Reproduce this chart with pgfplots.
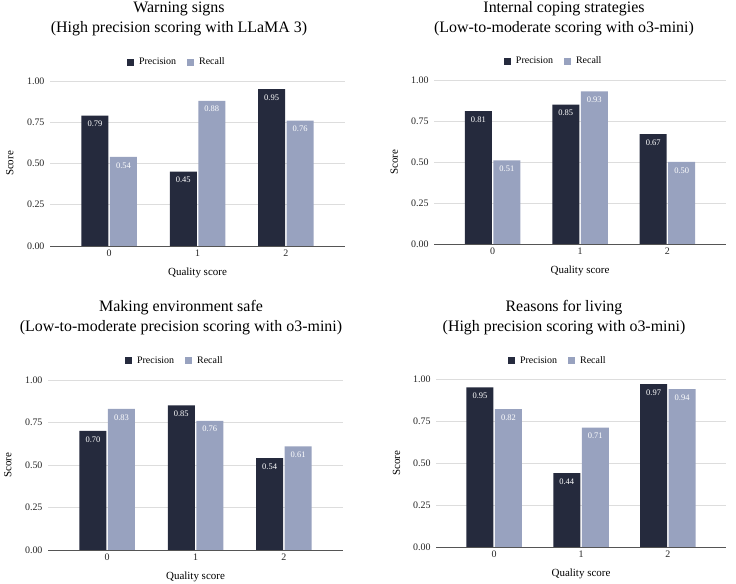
\documentclass[border=0pt]{standalone}
\usepackage{pgfplots}
\pgfplotsset{compat=1.18}
\usepackage{fontspec}
\setmainfont{Liberation Serif}
\definecolor{prec}{HTML}{252A3D}
\definecolor{rec}{HTML}{98A2BF}
\definecolor{gridc}{HTML}{DDDDDD}
\definecolor{axc}{HTML}{555555}
\pgfplotsset{
  panel/.style={
    scale only axis,
    ybar=1.5bp,
    bar width=27bp,
    xmin=-0.67, xmax=2.67,
    ymin=0, ymax=1,
    xtick={0,1,2},
    ytick={0,0.25,0.5,0.75,1},
    /pgf/number format/assume math mode=true,
    yticklabel style={xshift=-2bp, /pgf/number format/fixed, /pgf/number format/fixed zerofill, /pgf/number format/precision=2},
    ticklabel style={font=\fontsize{10}{12}\selectfont, text=black!85},
    major tick length=0pt,
    axis x line*=bottom,
    axis y line*=left,
    x axis line style={axc, line width=0.8pt},
    y axis line style={draw=none},
    ymajorgrids,
    major grid style={gridc, line width=0.6pt},
    xlabel={Quality score},
    ylabel={Score},
    label style={font=\fontsize{11}{13}\selectfont},
    xlabel style={at={(axis description cs:0.5,0)}, anchor=center, yshift=-27bp},
    ylabel style={at={(axis description cs:-0.136,0.5)}, anchor=center},
    nodes near coords,
    point meta=y,
    every node near coord/.append style={
      anchor=north, yshift=-2bp, text=white,
      font=\fontsize{8.5}{10}\selectfont,
      /pgf/number format/fixed, /pgf/number format/fixed zerofill, /pgf/number format/precision=2},
    legend columns=2,
    legend style={draw=none, fill=none, font=\fontsize{10}{12}\selectfont,
      anchor=center, /tikz/every even column/.append style={column sep=9bp}},
    legend image code/.code={\fill[##1] (0bp,-3.5bp) rectangle (7bp,3.5bp); \path (10bp,0bp);},
  },
  precbar/.style={fill=prec, draw=none},
  recbar/.style={fill=rec, draw=none},
}
\begin{document}
\begin{tikzpicture}[x=1bp,y=1bp]
\useasboundingbox (0,0) rectangle (736,584);
% titles
\node[align=center, font=\fontsize{16}{20}\selectfont] at (179,565) {Warning signs\\(High precision scoring with LLaMA 3)};
\node[align=center, font=\fontsize{16}{20}\selectfont] at (564,565) {Internal coping strategies\\(Low-to-moderate scoring with o3-mini)};
\node[align=center, font=\fontsize{16}{20}\selectfont] at (181,266) {Making environment safe\\(Low-to-moderate precision scoring with o3-mini)};
\node[align=center, font=\fontsize{16}{20}\selectfont] at (564,266) {Reasons for living\\(High precision scoring with o3-mini)};

\begin{axis}[panel, at={(50bp,338bp)}, anchor=south west, width=295bp, height=165bp,
  legend style={at={(rel axis cs:0.43,1.115)}}]
\addplot[precbar] coordinates {(0,0.79) (1,0.45) (2,0.95)};
\addplot[recbar] coordinates {(0,0.54) (1,0.88) (2,0.76)};
\legend{Precision, Recall}
\end{axis}

\begin{axis}[panel, at={(434bp,340bp)}, anchor=south west, width=292bp, height=164bp,
  legend style={at={(rel axis cs:0.41,1.115)}}]
\addplot[precbar] coordinates {(0,0.81) (1,0.85) (2,0.67)};
\addplot[recbar] coordinates {(0,0.51) (1,0.93) (2,0.50)};
\legend{Precision, Recall}
\end{axis}

\begin{axis}[panel, at={(48bp,34bp)}, anchor=south west, width=295bp, height=170bp,
  legend style={at={(rel axis cs:0.43,1.112)}}]
\addplot[precbar] coordinates {(0,0.70) (1,0.85) (2,0.54)};
\addplot[recbar] coordinates {(0,0.83) (1,0.76) (2,0.61)};
\legend{Precision, Recall}
\end{axis}

\begin{axis}[panel, at={(436bp,37bp)}, anchor=south west, width=290bp, height=168bp,
  legend style={at={(rel axis cs:0.42,1.108)}}]
\addplot[precbar] coordinates {(0,0.95) (1,0.44) (2,0.97)};
\addplot[recbar] coordinates {(0,0.82) (1,0.71) (2,0.94)};
\legend{Precision, Recall}
\end{axis}
\end{tikzpicture}
\end{document}
